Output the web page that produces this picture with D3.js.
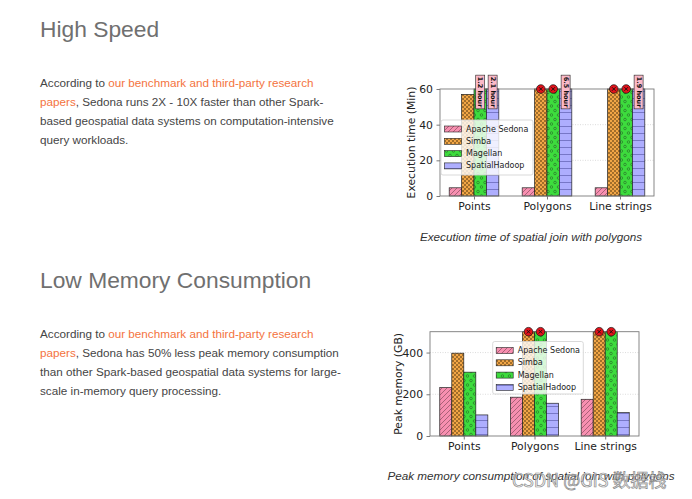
<!DOCTYPE html>
<html><head><meta charset="utf-8">
<script src="https://cdn.jsdelivr.net/npm/d3@7"></script>
<style>body{margin:0;background:#fff}svg{display:block}</style>
</head><body>
<svg id="c" width="692" height="499"></svg>
<script>
// ---------- data ----------
const categories = ["Points", "Polygons", "Line strings"];
const seriesNames = ["Apache Sedona", "Simba", "Magellan", "SpatialHadoop"];
// execution time in minutes (null = system failed)
const timeSedona = [4.6, 4.6, 4.6];
const timeSimba = [57, null, null];
const timeMagellan = [72, null, null];
const timeSpatialHadoop = [126, 390, 114];
const timeTicks = [0, 20, 40, 60];
// peak memory in GB (null = system failed)
const memSedona = [232, 186, 176];
const memSimba = [397, null, null];
const memMagellan = [306, null, null];
const memSpatialHadoop = [101, 157, 112];
const memTicks = [0, 200, 400];

const svg = d3.select("#c");
const SANS = "'Liberation Sans', Arial, sans-serif";
const MPL = "'DejaVu Sans', sans-serif";

// ---------- patterns ----------
const defs = svg.append("defs");
function pat(id, w, h, fill, draw) {
  const p = defs.append("pattern").attr("id", id).attr("patternUnits", "userSpaceOnUse")
    .attr("width", w).attr("height", h);
  p.append("rect").attr("width", w).attr("height", h).attr("fill", fill);
  draw(p);
}
pat("p0", 5, 5, "#f78fb0", p => p.append("path").attr("d", "M-1,1 L1,-1 M0,5 L5,0 M4,6 L6,4")
  .attr("stroke", "#6a3a4a").attr("stroke-width", 0.55));
pat("p1", 4, 4, "#f2a646", p => {
  p.append("circle").attr("cx", 1).attr("cy", 1).attr("r", 0.75).attr("fill", "#2a1a00");
  p.append("circle").attr("cx", 3).attr("cy", 3).attr("r", 0.75).attr("fill", "#2a1a00");
});
pat("p2", 7, 9, "#3ddc3d", p => {
  p.append("circle").attr("cx", 2).attr("cy", 2.5).attr("r", 1.3).attr("fill", "none").attr("stroke", "#245a24").attr("stroke-width", 0.55);
  p.append("circle").attr("cx", 5.5).attr("cy", 7).attr("r", 1.3).attr("fill", "none").attr("stroke", "#245a24").attr("stroke-width", 0.55);
});
pat("p3", 7, 7, "#aeaefe", p => p.append("path").attr("d", "M0,0.3 H7").attr("stroke", "#4a4a9a").attr("stroke-width", 0.7));
const patIds = ["url(#p0)", "url(#p1)", "url(#p2)", "url(#p3)"];

// ---------- page text ----------
function heading(txt, y) {
  svg.append("text").attr("x", 40).attr("y", y).attr("font-family", SANS)
    .attr("font-size", 22.8).attr("fill", "#707070").text(txt);
}
function paragraph(lines, y0) {
  lines.forEach((segs, i) => {
    const t = svg.append("text").attr("x", 40).attr("y", y0 + i * 19)
      .attr("font-family", SANS).attr("font-size", 11.7).attr("fill", "#454545");
    segs.forEach(s => t.append("tspan").attr("fill", s[1] ? "#f4733e" : "#454545").text(s[0]));
  });
}
heading("High Speed", 37);
paragraph([
  [["According to ", 0], ["our benchmark and third-party research", 1]],
  [["papers", 1], [", Sedona runs 2X - 10X faster than other Spark-", 0]],
  [["based geospatial data systems on computation-intensive", 0]],
  [["query workloads.", 0]]
], 86.5);
heading("Low Memory Consumption", 288);
paragraph([
  [["According to ", 0], ["our benchmark and third-party research", 1]],
  [["papers", 1], [", Sedona has 50% less peak memory consumption", 0]],
  [["than other Spark-based geospatial data systems for large-", 0]],
  [["scale in-memory query processing.", 0]]
], 338);

// ---------- chart ----------
function chart(o) {
  const g = svg.append("g");
  const x = d3.scalePoint().domain(categories).range([o.x0, o.x1]).padding(o.pad);
  const sub = d3.scaleBand().domain(seriesNames).range([-x.step() * 0.34, x.step() * 0.34]);
  const y = d3.scaleLinear().domain([0, o.ymax]).range([o.yb, o.yt]);

  // grid
  g.selectAll(".grid").data(o.ticks.filter(t => t > 0 && t < o.ymax)).join("line")
    .attr("x1", o.x0).attr("x2", o.x1).attr("y1", d => y(d)).attr("y2", d => y(d))
    .attr("stroke", "#c4c4c4").attr("stroke-width", 0.6).attr("stroke-dasharray", "1,1.5");

  // bars
  const bars = [];
  o.values.forEach((arr, si) => arr.forEach((v, ci) => bars.push({ si, ci, v })));
  g.selectAll(".bar").data(bars).join("rect")
    .attr("x", d => x(categories[d.ci]) + sub(seriesNames[d.si]))
    .attr("width", sub.bandwidth())
    .attr("y", d => y(d.v === null ? o.ymax : Math.min(d.v, o.ymax)))
    .attr("height", d => y(0) - y(d.v === null ? o.ymax : Math.min(d.v, o.ymax)))
    .attr("fill", d => patIds[d.si]).attr("stroke", "#222").attr("stroke-width", 0.7);

  // frame
  g.append("rect").attr("x", o.x0).attr("y", o.yt).attr("width", o.x1 - o.x0).attr("height", o.yb - o.yt)
    .attr("fill", "none").attr("stroke", "#7a7a7a").attr("stroke-width", 0.9);

  // axes
  const ya = g.append("g").attr("transform", `translate(${o.x0},0)`)
    .call(d3.axisLeft(y).tickValues(o.ticks).tickSize(3.5).tickPadding(3.5));
  const xa = g.append("g").attr("transform", `translate(0,${o.yb})`)
    .call(d3.axisBottom(x).tickSize(3.5).tickPadding(3));
  [ya, xa].forEach(a => {
    a.select(".domain").remove();
    a.selectAll("line").attr("stroke", "#7a7a7a");
    a.selectAll("text").attr("font-family", MPL).attr("font-size", 10.8).attr("fill", "#222");
  });

  // y label
  g.append("text").attr("transform", `translate(${o.ylx},${(o.yt + o.yb) / 2}) rotate(-90)`)
    .attr("text-anchor", "middle").attr("dominant-baseline", "central")
    .attr("font-family", MPL).attr("font-size", 10.8).attr("fill", "#222").text(o.ylabel);

  // failed markers
  bars.filter(d => d.v === null).forEach(d => {
    const cx = x(categories[d.ci]) + sub(seriesNames[d.si]) + sub.bandwidth() / 2, cy = y(o.ymax);
    g.append("circle").attr("cx", cx).attr("cy", cy).attr("r", 4.3)
      .attr("fill", "#e3121b").attr("stroke", "#111").attr("stroke-width", 0.7);
    g.append("path").attr("d", `M${cx - 1.8},${cy - 1.8}L${cx + 1.8},${cy + 1.8}M${cx - 1.8},${cy + 1.8}L${cx + 1.8},${cy - 1.8}`)
      .attr("stroke", "#111").attr("stroke-width", 0.9);
  });

  // overflow labels
  if (o.overflow) {
    bars.filter(d => d.v !== null && d.v > o.ymax).forEach(d => {
      const cx = x(categories[d.ci]) + sub(seriesNames[d.si]) + sub.bandwidth() / 2, cy = y(o.ymax) + 3;
      const lg = g.append("g").attr("transform", `translate(${cx},${cy}) rotate(90)`);
      const r = lg.append("rect");
      const t = lg.append("text").attr("text-anchor", "middle").attr("dominant-baseline", "central")
        .attr("font-family", MPL).attr("font-size", 6.5).attr("font-weight", "bold").attr("fill", "#111")
        .text((d.v / 60).toFixed(1) + " hour");
      const w = t.node().getComputedTextLength();
      r.attr("x", -w / 2 - 1.5).attr("y", -4.5).attr("width", w + 3).attr("height", 9)
        .attr("fill", "#fbb9c8").attr("stroke", "#222").attr("stroke-width", 0.6);
    });
  }

  // legend
  const L = o.legend;
  g.append("rect").attr("x", L.x).attr("y", L.y).attr("width", L.w).attr("height", L.h).attr("rx", 2)
    .attr("fill", "#fff").attr("fill-opacity", 0.8).attr("stroke", "#cfcfcf").attr("stroke-width", 0.8);
  seriesNames.forEach((s, i) => {
    const cy = L.y + 9 + i * 12.3;
    g.append("rect").attr("x", L.x + 3.5).attr("y", cy - 3).attr("width", 17).attr("height", 6)
      .attr("fill", patIds[i]).attr("stroke", "#222").attr("stroke-width", 0.6);
    g.append("text").attr("x", L.x + 25).attr("y", cy).attr("dominant-baseline", "central")
      .attr("font-family", MPL).attr("font-size", 8).attr("fill", "#222").text(s);
  });

  // caption
  svg.append("text").attr("x", 531).attr("y", o.capY).attr("text-anchor", "middle")
    .attr("font-family", SANS).attr("font-style", "italic").attr("font-size", 11.7).attr("fill", "#333")
    .text(o.caption);
}

chart({
  x0: 440, x1: 654, yt: 89, yb: 196, ymax: 60, pad: 0.466, ticks: timeTicks,
  values: [timeSedona, timeSimba, timeMagellan, timeSpatialHadoop],
  ylabel: "Execution time (Min)", ylx: 411, overflow: true,
  legend: { x: 441, y: 120, w: 92, h: 55 },
  caption: "Execution time of spatial join with polygons", capY: 240.5
});
chart({
  x0: 430, x1: 639, yt: 331.7, yb: 436, ymax: 500, pad: 0.478, ticks: memTicks,
  values: [memSedona, memSimba, memMagellan, memSpatialHadoop],
  ylabel: "Peak memory (GB)", ylx: 398, overflow: false,
  legend: { x: 492.7, y: 341.5, w: 90.6, h: 52.5 },
  caption: "Peak memory consumption of spatial join with polygons", capY: 480
});

// watermark
svg.append("text").attr("x", 512).attr("y", 487).attr("font-family", "'Noto Sans CJK SC', 'DejaVu Sans', sans-serif")
  .attr("font-size", 18).attr("fill", "rgba(245,245,245,0.55)").attr("stroke", "#8c8c8c").attr("stroke-width", 0.7)
  .text("CSDN @GIS 数据栈");
</script>
</body></html>
